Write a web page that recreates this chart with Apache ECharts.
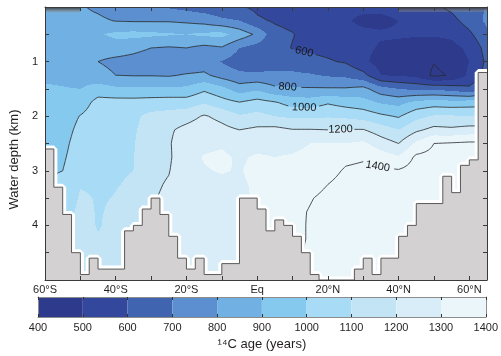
<!DOCTYPE html>
<html><head><meta charset="utf-8">
<script src="https://cdn.jsdelivr.net/npm/echarts@6/dist/echarts.min.js"></script>
<style>html,body{margin:0;padding:0;background:#fff}#c{width:501px;height:356px}</style>
</head><body><div id="c"></div>
<script>
// ---------- data ----------
const lonNodes = [-60,-55,-50,-45,-40,-35,-30,-25,-20,-15,-10,-5,0,5,10,15,20,25,30,35,40,45,50,55,60,65];
const depthNodes = [0,0.25,0.5,0.75,1,1.25,1.5,1.75,2,2.25,2.5,2.75,3,3.25,3.5,3.75,4,4.25,4.5,4.75,5];
// 14C age (years) per latitude node (rows) at depthNodes
const ageByLon = [
 [850,850,860,860,870,885,910,930,950,960,970,980,990,1000,1000,1000,1000,1000,1000,1000,1000],
 [830,840,850,850,860,880,905,925,940,955,970,985,1000,1020,1040,1060,1080,1090,1100,1100,1100],
 [810,830,860,850,830,860,900,940,1005,1030,1050,1060,1075,1095,1110,1120,1130,1135,1140,1140,1140],
 [780,820,890,850,800,840,940,1040,1060,1080,1090,1090,1090,1090,1095,1095,1095,1105,1120,1130,1130],
 [740,795,920,860,770,800,920,1040,1070,1090,1090,1092,1095,1098,1102,1110,1120,1125,1130,1140,1140],
 [720,790,930,830,760,795,915,1040,1080,1090,1095,1097,1100,1105,1115,1125,1135,1140,1150,1150,1150],
 [700,790,920,800,740,795,920,1045,1125,1140,1150,1160,1170,1180,1190,1195,1200,1200,1200,1200,1200],
 [690,790,910,790,730,790,920,1050,1140,1185,1190,1185,1195,1210,1220,1230,1240,1240,1240,1240,1240],
 [670,780,900,800,720,810,920,1050,1160,1230,1260,1270,1270,1265,1260,1260,1260,1260,1265,1270,1270],
 [650,760,920,770,740,820,980,1090,1210,1260,1280,1305,1295,1275,1265,1260,1260,1260,1265,1270,1270],
 [630,720,930,790,695,760,930,1040,1170,1230,1290,1315,1305,1285,1270,1260,1260,1260,1265,1270,1270],
 [610,700,860,700,650,720,850,1005,1110,1200,1260,1290,1295,1290,1285,1285,1285,1285,1285,1285,1285],
 [580,615,780,660,640,720,880,1040,1130,1220,1270,1310,1320,1310,1310,1320,1330,1340,1340,1340,1340],
 [560,590,630,640,660,720,820,1010,1100,1230,1270,1300,1330,1340,1350,1360,1360,1360,1360,1360,1360],
 [550,570,605,595,650,720,810,960,1080,1205,1270,1310,1340,1360,1370,1380,1370,1370,1370,1370,1370],
 [540,550,560,580,630,710,810,950,1080,1205,1300,1330,1350,1370,1395,1405,1410,1410,1420,1430,1440],
 [540,540,550,570,610,690,810,990,1090,1200,1300,1340,1370,1400,1420,1430,1440,1450,1450,1450,1450],
 [530,510,530,550,590,680,810,960,1080,1205,1300,1380,1410,1430,1440,1450,1450,1460,1460,1460,1460],
 [520,480,520,520,520,630,830,940,1060,1205,1320,1390,1420,1430,1440,1450,1450,1460,1460,1460,1460],
 [520,480,510,490,460,500,740,890,1020,1150,1250,1350,1420,1440,1450,1460,1460,1460,1460,1460,1460],
 [530,500,510,480,450,490,700,870,990,1100,1200,1310,1410,1430,1440,1450,1460,1460,1460,1460,1460],
 [560,530,510,460,440,470,680,930,1070,1180,1320,1420,1440,1450,1460,1460,1460,1460,1460,1460,1460],
 [580,560,510,450,405,380,680,950,1110,1230,1400,1430,1440,1450,1460,1460,1460,1460,1460,1460,1460],
 [620,570,520,470,440,410,660,940,1110,1220,1410,1440,1450,1460,1460,1460,1460,1460,1460,1460,1460],
 [680,640,580,520,500,520,620,950,1100,1240,1420,1440,1450,1460,1460,1460,1460,1460,1460,1460,1460],
 [700,720,680,640,620,640,700,960,1100,1240,1420,1440,1450,1460,1460,1460,1460,1460,1460,1460,1460]
];
const colorLevels = [400,500,600,700,800,900,1000,1100,1200,1300,1400];
const levelColors = ['#2e3a8c','#33489c','#4064b0','#5b8fd0','#70b0e2','#86c9ef','#a8dbf5','#c2e4f5','#d9edf8','#ebf6fb'];
const contourLevels = [400,600,800,1000,1200,1400];
const labelLevels = [600,800,1000,1200,1400];
const labelLons = [13.3,8.6,13.3,23.6,34.1];
// sea-floor steps: depth from each longitude to the next
const bathyLon = [-60,-57.5,-55,-52.5,-50,-47.5,-45,-37.5,-35,-32.5,-30,-27.5,-25,-22.5,-20,-17.5,-15,-10,-5,0,2.5,5,7.5,10,12.5,15,17.5,27.5,30,32.5,35,40,42.5,45,52.5,55,57.5,60,62.5,65];
const bathyDepth = [2.6,3.3,3.8,4.5,4.9,4.6,4.8,4.1,4.0,3.7,3.5,3.8,4.2,4.6,4.8,4.6,4.9,4.7,3.5,3.7,4.1,3.9,4.0,4.2,4.5,4.9,5.0,4.8,4.6,4.9,4.6,4.2,4.0,3.6,3.1,3.4,2.9,2.8,1.2,1.2];
// thin unresolved surface layer (dark band) : [lonStart, lonEnd, depth]
const surfaceBandStart = [-60, 40];
const surfaceBandEnd = [-50, 65];
const surfaceBandDepth = [0.1, 0.09];
const depthTickLabels = [1,2,3,4];

// ---------- helpers ----------
const FONT = "'Liberation Sans', Arial, Helvetica, sans-serif";
const TXT = '#231f20';
function colorOf(v){
  let k = Math.floor((v - colorLevels[0]) / 100);
  if (k < 0) k = 0; if (k > levelColors.length - 1) k = levelColors.length - 1;
  return levelColors[k];
}
function findIdx(arr, v){
  for (let i = 0; i < arr.length - 2; i++) if (v < arr[i+1]) return i;
  return arr.length - 2;
}
function ageAt(lon, d){
  const i = findIdx(lonNodes, lon), j = findIdx(depthNodes, d);
  const s = (lon - lonNodes[i]) / (lonNodes[i+1] - lonNodes[i]);
  const t = (d - depthNodes[j]) / (depthNodes[j+1] - depthNodes[j]);
  const a = ageByLon[i][j], b = ageByLon[i+1][j], c = ageByLon[i][j+1], e = ageByLon[i+1][j+1];
  return (a*(1-s)+b*s)*(1-t) + (c*(1-s)+e*s)*t;
}
function labelDepth(level, lon){
  let prev = ageAt(lon, 0);
  for (let d = 0.005; d <= 5; d += 0.005){
    const v = ageAt(lon, d);
    if (prev < level && v >= level) return d - 0.005 + 0.005 * (level - prev) / (v - prev);
    prev = v;
  }
  return 2.5;
}
const labelData = labelLevels.map((lv, k) => [labelLons[k], labelDepth(lv, labelLons[k]), lv]);
function labelGeom(api){
  const sz = api.size([1,1]);
  return labelData.map(l => {
    const p = api.coord([l[0], l[1]]);
    const gx = (ageAt(l[0]+0.5,l[1]) - ageAt(l[0]-0.5,l[1])) / sz[0];
    const gy = (ageAt(l[0],l[1]+0.05) - ageAt(l[0],l[1]-0.05)) / (0.1 * sz[1]);
    let tx = gy, ty = -gx;
    if (tx < 0){ tx = -tx; ty = -ty; }
    const ang = Math.atan2(ty, tx);
    return {x:p[0], y:p[1], ang, half: String(l[2]).length * 3.1 + 2.5, text: String(l[2])};
  });
}
function inLabel(x, y, geoms){
  for (const g of geoms){
    const dx = x - g.x, dy = y - g.y;
    const u = dx*Math.cos(g.ang) + dy*Math.sin(g.ang);
    const v = -dx*Math.sin(g.ang) + dy*Math.cos(g.ang);
    if (Math.abs(u) < g.half && Math.abs(v) < 6) return true;
  }
  return false;
}

// cells
const cellData = [];
for (let i = 0; i < lonNodes.length - 1; i++)
  for (let j = 0; j < depthNodes.length - 1; j++)
    cellData.push([lonNodes[i], depthNodes[j], i, j]);

function cellCorners(api){
  const i = api.value(2), j = api.value(3);
  const p0 = api.coord([lonNodes[i], depthNodes[j]]);
  const p1 = api.coord([lonNodes[i+1], depthNodes[j+1]]);
  return {i, j, X0:p0[0], X1:p1[0], Y0:p0[1], Y1:p1[1],
    a: ageByLon[i][j], b: ageByLon[i+1][j], c: ageByLon[i][j+1], e: ageByLon[i+1][j+1]};
}

function renderField(params, api){
  const k = cellCorners(api);
  const x0 = Math.round(k.X0), x1 = Math.round(k.X1), y0 = Math.round(k.Y0), y1 = Math.round(k.Y1);
  const children = [];
  let prevKey = null, prevRects = null;
  for (let py = y0; py < y1; py++){
    let t = (py + 0.5 - k.Y0) / (k.Y1 - k.Y0); t = Math.min(1, Math.max(0, t));
    const L = k.a*(1-t) + k.c*t, R = k.b*(1-t) + k.e*t;
    const runs = [];
    let start = x0, col = null;
    for (let px = x0; px < x1; px++){
      let s = (px + 0.5 - k.X0) / (k.X1 - k.X0); s = Math.min(1, Math.max(0, s));
      const c = colorOf(L*(1-s) + R*s);
      if (c !== col){ if (col) runs.push([start, px, col]); start = px; col = c; }
    }
    if (col) runs.push([start, x1, col]);
    const key = runs.map(r => r.join(',')).join('|');
    if (key === prevKey){ prevRects.forEach(r => r.shape.height += 1); continue; }
    prevKey = key; prevRects = [];
    runs.forEach(r => {
      const el = {type:'rect', shape:{x:r[0], y:py, width:r[1]-r[0], height:1}, style:{fill:r[2], stroke:null}};
      prevRects.push(el); children.push(el);
    });
  }
  return {type:'group', children};
}

function renderContours(params, api){
  const k = cellCorners(api);
  const geoms = labelGeom(api);
  const n = 4;
  const vals = [], xs = [], ys = [];
  for (let q = 0; q <= n; q++){ xs.push(k.X0 + (k.X1 - k.X0) * q / n); ys.push(k.Y0 + (k.Y1 - k.Y0) * q / n); }
  for (let r = 0; r <= n; r++){
    const t = r / n; const row = [];
    for (let q = 0; q <= n; q++){
      const s = q / n;
      row.push((k.a*(1-s)+k.b*s)*(1-t) + (k.c*(1-s)+k.e*s)*t);
    }
    vals.push(row);
  }
  const children = [];
  contourLevels.forEach(L => {
    let d = '';
    for (let r = 0; r < n; r++) for (let q = 0; q < n; q++){
      const v00 = vals[r][q], v10 = vals[r][q+1], v01 = vals[r+1][q], v11 = vals[r+1][q+1];
      const pts = [];
      const edge = (va, vb, xa, ya, xb, yb) => {
        if ((va < L) !== (vb < L)){ const f = (L - va) / (vb - va); pts.push([xa + (xb-xa)*f, ya + (yb-ya)*f]); }
      };
      edge(v00, v10, xs[q], ys[r], xs[q+1], ys[r]);
      edge(v10, v11, xs[q+1], ys[r], xs[q+1], ys[r+1]);
      edge(v11, v01, xs[q+1], ys[r+1], xs[q], ys[r+1]);
      edge(v01, v00, xs[q], ys[r+1], xs[q], ys[r]);
      let segs = [];
      if (pts.length === 2) segs = [[pts[0], pts[1]]];
      else if (pts.length === 4){
        const cen = (v00+v10+v01+v11)/4;
        if ((cen < L) === (v00 < L)) segs = [[pts[0], pts[1]], [pts[2], pts[3]]];
        else segs = [[pts[0], pts[3]], [pts[1], pts[2]]];
      }
      segs.forEach(sg => {
        const mx = (sg[0][0]+sg[1][0])/2, my = (sg[0][1]+sg[1][1])/2;
        if (inLabel(mx, my, geoms)) return;
        d += 'M' + sg[0][0].toFixed(2) + ' ' + sg[0][1].toFixed(2) + 'L' + sg[1][0].toFixed(2) + ' ' + sg[1][1].toFixed(2);
      });
    }
    if (d) children.push({type:'path', shape:{pathData:d}, style:{fill:null, stroke:'#2a2a2a', lineWidth:0.8}});
  });
  return {type:'group', children};
}

function renderLabels(params, api){
  const idx = params.dataIndex;
  const g = labelGeom(api)[idx];
  return {type:'text', x:g.x, y:g.y, rotation:-g.ang,
    style:{text:g.text, fill:'#1a1a1a', fontSize:11, fontFamily:FONT, align:'center', verticalAlign:'middle'}};
}

const barData = levelColors.map((c, k) => [colorLevels[k], colorLevels[k+1], k]);
function renderBar(params, api){
  const p0 = api.coord([api.value(0), 1]);
  const p1 = api.coord([api.value(1), 0]);
  return {type:'rect', shape:{x:p0[0], y:p0[1], width:p1[0]-p0[0], height:p1[1]-p0[1]},
    style:{fill:levelColors[api.value(2)], stroke:null}};
}

const surfaceData = surfaceBandStart.map((s, k) => [s, 0, surfaceBandEnd[k], surfaceBandDepth[k]]);
function renderSurface(params, api){
  const p0 = api.coord([api.value(0), api.value(1)]);
  const p1 = api.coord([api.value(2), api.value(3)]);
  return {type:'rect', shape:{x:p0[0], y:p0[1], width:p1[0]-p0[0], height:p1[1]-p0[1]},
    style:{fill:new echarts.graphic.LinearGradient(0,0,0,1,[{offset:0,color:'rgba(40,40,40,0.95)'},{offset:1,color:'rgba(150,150,150,0.35)'}]), stroke:null}};
}

const bathyData = bathyLon.map((x, k) => [x, bathyDepth[k]]);

function latLabel(v){
  if (v % 20 !== 0 || v < -60 || v > 60) return '';
  return v < 0 ? (-v) + '°S' : v > 0 ? v + '°N' : 'Eq';
}

const frame = {color:'#3a3a3a', width:1};
const chart = echarts.init(document.getElementById('c'), null, {renderer:'canvas'});
chart.setOption({
  animation:false,
  backgroundColor:'#fff',
  grid:[{left:38, top:7, width:449, height:273}, {left:38, top:297, width:450, height:20}],
  xAxis:[
    {gridIndex:0, type:'value', min:-60, max:65, interval:10, position:'bottom', z:10,
     axisLine:{onZero:false, lineStyle:frame}, axisTick:{inside:true, length:4, lineStyle:frame},
     splitLine:{show:false}, axisLabel:{formatter:latLabel, color:TXT, fontSize:11, fontFamily:FONT, margin:4}},
    {gridIndex:0, type:'value', min:-60, max:65, interval:10, position:'top', z:10,
     axisLine:{onZero:false, lineStyle:frame}, axisTick:{inside:true, length:4, lineStyle:frame},
     splitLine:{show:false}, axisLabel:{show:false}},
    {gridIndex:1, type:'value', min:400, max:1400, interval:100, position:'bottom', z:10,
     axisLine:{onZero:false, lineStyle:{color:'#8c8c8c', width:1}}, axisTick:{inside:true, length:3, lineStyle:{color:'#333'}},
     splitLine:{show:false}, axisLabel:{formatter:v => String(v), color:TXT, fontSize:11, fontFamily:FONT, margin:5},
     name:'¹⁴C age (years)', nameLocation:'middle', nameGap:21,
     nameTextStyle:{color:TXT, fontSize:13, fontFamily:FONT}},
    {gridIndex:1, type:'value', min:400, max:1400, interval:100, position:'top', z:10,
     axisLine:{onZero:false, lineStyle:{color:'#8c8c8c', width:1}}, axisTick:{inside:true, length:3, lineStyle:{color:'#333'}},
     splitLine:{show:false}, axisLabel:{show:false}}
  ],
  yAxis:[
    {gridIndex:0, type:'value', min:0, max:5, interval:0.5, inverse:true, position:'left', z:10,
     axisLine:{onZero:false, lineStyle:frame}, axisTick:{inside:true, length:4, lineStyle:frame},
     splitLine:{show:false},
     axisLabel:{formatter:v => depthTickLabels.indexOf(v) >= 0 ? String(v) : '', color:TXT, fontSize:11, fontFamily:FONT, margin:7},
     name:'Water depth (km)', nameLocation:'middle', nameGap:22, nameRotate:90,
     nameTextStyle:{color:TXT, fontSize:13, fontFamily:FONT, padding:[0,32,0,0]}},
    {gridIndex:0, type:'value', min:0, max:5, interval:0.5, inverse:true, position:'right', z:10,
     axisLine:{onZero:false, lineStyle:frame}, axisTick:{inside:true, length:4, lineStyle:frame},
     splitLine:{show:false}, axisLabel:{show:false}},
    {gridIndex:1, type:'value', min:0, max:1, position:'left', z:10,
     axisLine:{show:true, onZero:false, lineStyle:{color:'#8c8c8c', width:1}}, axisTick:{show:false}, splitLine:{show:false}, axisLabel:{show:false}},
    {gridIndex:1, type:'value', min:0, max:1, position:'right', z:10,
     axisLine:{show:true, onZero:false, lineStyle:{color:'#8c8c8c', width:1}}, axisTick:{show:false}, splitLine:{show:false}, axisLabel:{show:false}}
  ],
  series:[
    {type:'custom', name:'age', xAxisIndex:0, yAxisIndex:0, data:cellData, encode:{x:0, y:1},
     renderItem:renderField, z:1, silent:true, clip:true},
    {type:'custom', name:'surface', xAxisIndex:0, yAxisIndex:0, data:surfaceData, encode:{x:[0,2], y:[1,3]},
     renderItem:renderSurface, z:2, silent:true, clip:true},
    {type:'custom', name:'contours', xAxisIndex:0, yAxisIndex:0, data:cellData, encode:{x:0, y:1},
     renderItem:renderContours, z:2, silent:true, clip:true},
    {type:'custom', name:'contourLabels', xAxisIndex:0, yAxisIndex:0, data:labelData, encode:{x:0, y:1},
     renderItem:renderLabels, z:3, silent:true},
    {type:'line', name:'halo', xAxisIndex:0, yAxisIndex:0, data:bathyData, step:'end', symbol:'none',
     lineStyle:{color:'#ffffff', width:7}, z:4, silent:true},
    {type:'line', name:'seafloor', xAxisIndex:0, yAxisIndex:0, data:bathyData, step:'end', symbol:'none',
     lineStyle:{color:'#5a5a5a', width:1}, areaStyle:{color:'#d3d1d2', opacity:1, origin:'end'}, z:5, silent:true},
    {type:'custom', name:'colorbar', xAxisIndex:2, yAxisIndex:2, data:barData, encode:{x:[0,1], y:2},
     renderItem:renderBar, z:1, silent:true}
  ]
});
</script>
</body></html>
